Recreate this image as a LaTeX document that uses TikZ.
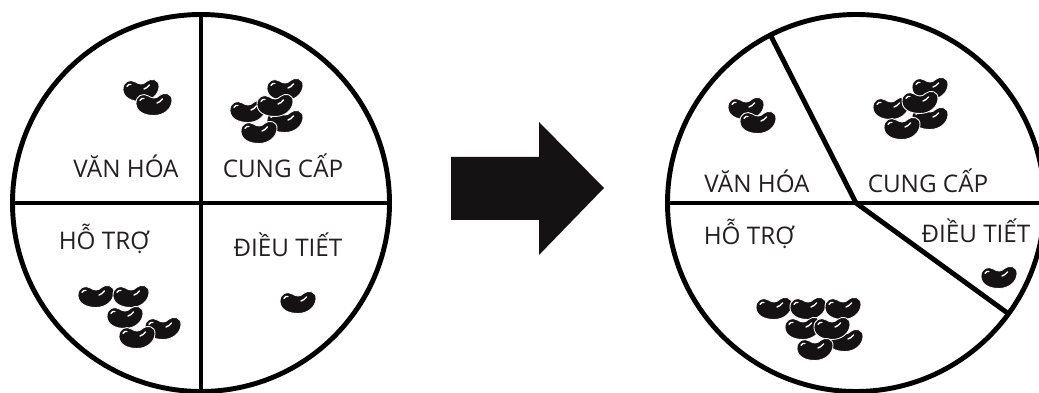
\documentclass[tikz,border=0pt]{standalone}
\usepackage{fontspec}
\setmainfont{Open Sans}
\definecolor{beanblack}{HTML}{141213}
\definecolor{inkgray}{HTML}{231F20}
\tikzset{
  bean/.pic={
    \filldraw[fill=beanblack, draw=white, line width=0.5pt]
      (-0.36,0.0) .. controls (-0.37,0.17) and (-0.22,0.23) .. (-0.11,0.16)
      .. controls (-0.04,0.11) and (0.04,0.1) .. (0.11,0.17)
      .. controls (0.2,0.25) and (0.37,0.22) .. (0.36,0.06)
      .. controls (0.35,-0.1) and (0.2,-0.23) .. (0.0,-0.23)
      .. controls (-0.2,-0.23) and (-0.35,-0.15) .. (-0.36,0.0) -- cycle;
    \draw[white, line width=0.8pt, line cap=round] (-0.28,0.07) .. controls (-0.26,0.11) and (-0.23,0.12) .. (-0.2,0.11);
    \draw[white, line width=0.8pt, line cap=round] (0.06,0.02) .. controls (0.1,0.03) and (0.14,0.06) .. (0.17,0.1);
  },
  sectorname/.style={font=\fontsize{13.8}{16}\selectfont, text=inkgray, anchor=base, inner sep=0pt},
  rim/.style={line width=2.8pt},
}
\begin{document}
\begin{tikzpicture}
    \clip (0,0) rectangle (20.78,7.86);
    % left: four equal parts
    \coordinate (lc) at (4.02,3.80);
    \draw[rim] (lc) circle (3.77);
    \draw[rim] (lc) ++(90:3.77) -- ++(0,-7.54);
    \draw[rim] (lc) ++(180:3.77) -- ++(7.54,0);
    \node[sectorname] (lvh) at (2.52,4.30) {VĂN HÓA};
    \node[sectorname] (lcc) at (5.66,4.30) {CUNG CẤP};
    \node[sectorname] (lht) at (2.08,2.86) {HỖ TRỢ};
    \node[sectorname] (ldt) at (5.76,2.72) {ĐIỀU TIẾT};
    \foreach \p in {(2.82,6.06),(3.08,5.78),
                    (5.70,6.08),(4.96,5.64),(5.70,5.44),(5.50,5.76),(5.18,5.22),
                    (1.92,1.94),(2.62,1.94),(2.50,1.52),(3.26,1.30),(2.74,1.12),
                    (5.96,1.82)}
        \pic at \p {bean};

    % the arrow between them
    \fill[beanblack] (9.02,4.72) -- (10.78,4.72) -- (10.78,5.42) -- (12.08,4.10)
        -- (10.78,2.76) -- (10.78,3.46) -- (9.02,3.46) -- cycle;

    % right: parts of unequal size
    \coordinate (rc) at (17.12,3.80);
    \draw[rim] (rc) circle (3.77);
    \draw[rim] (rc) ++(180:3.77) -- ++(7.54,0);
    \draw[rim] (rc) -- ++(117:3.77);
    \draw[rim] (rc) -- ++(-36:3.77);
    \node[sectorname] (rvh) at (15.14,4.00) {VĂN HÓA};
    \node[sectorname] (rcc) at (18.56,4.00) {CUNG CẤP};
    \node[sectorname] (rht) at (14.98,2.96) {HỖ TRỢ};
    \node[sectorname] (rdt) at (19.52,3.00) {ĐIỀU TIẾT};
    \foreach \p in {(14.92,5.70),(15.16,5.42),
                    (18.60,6.10),(17.82,5.70),(18.60,5.50),(18.40,5.82),(18.04,5.30),
                    (15.48,1.70),(16.16,1.70),(16.86,1.70),(16.90,1.06),(16.06,1.30),(16.64,1.30),(16.30,0.88),
                    (19.98,2.32)}
        \pic at \p {bean};
\end{tikzpicture}
\end{document}
